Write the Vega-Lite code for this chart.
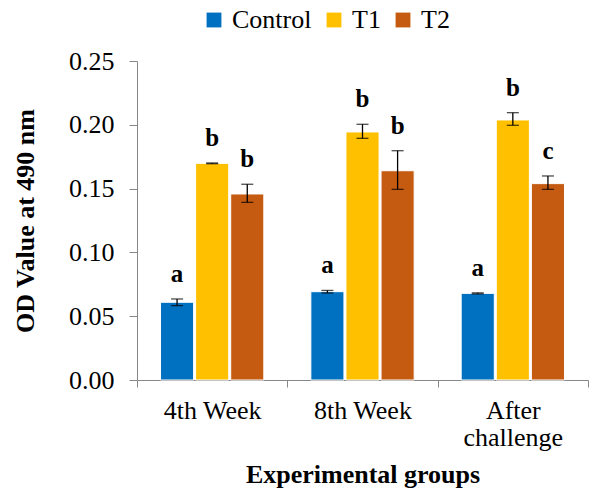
{
  "$schema": "https://vega.github.io/schema/vega-lite/v6.json",
  "autosize": "none",
  "padding": {"left": 137, "top": 61, "right": 4, "bottom": 109},
  "width": 451,
  "height": 319,
  "background": "white",
  "config": {"view": {"stroke": null}, "font": "Liberation Serif"},
  "data": {"values": [
    {"group": "4th Week", "treatment": "Control", "mean": 0.0609, "lo": 0.0583, "hi": 0.0635, "letter": "a"},
    {"group": "4th Week", "treatment": "T1", "mean": 0.1698, "lo": 0.1695, "hi": 0.1701, "letter": "b"},
    {"group": "4th Week", "treatment": "T2", "mean": 0.1458, "lo": 0.1392, "hi": 0.1534, "letter": "b"},
    {"group": "8th Week", "treatment": "Control", "mean": 0.0692, "lo": 0.0682, "hi": 0.0702, "letter": "a"},
    {"group": "8th Week", "treatment": "T1", "mean": 0.1944, "lo": 0.1894, "hi": 0.2004, "letter": "b"},
    {"group": "8th Week", "treatment": "T2", "mean": 0.1640, "lo": 0.1494, "hi": 0.1797, "letter": "b"},
    {"group": "After challenge", "treatment": "Control", "mean": 0.0679, "lo": 0.0675, "hi": 0.0683, "letter": "a"},
    {"group": "After challenge", "treatment": "T1", "mean": 0.2038, "lo": 0.1996, "hi": 0.2095, "letter": "b"},
    {"group": "After challenge", "treatment": "T2", "mean": 0.1539, "lo": 0.1494, "hi": 0.1599, "letter": "c"}
  ]},
  "encoding": {
    "x": {
      "field": "group", "type": "nominal", "sort": null,
      "scale": {"paddingInner": 0, "paddingOuter": 0},
      "axis": {
        "title": "Experimental groups",
        "titleFont": "Liberation Serif", "titleFontSize": 26, "titleFontWeight": "bold", "titleColor": "black",
        "titlePadding": 11,
        "labelFont": "Liberation Serif", "labelFontSize": 26, "labelColor": "black",
        "labelAngle": 0, "labelPadding": 10, "labelLineHeight": 27,
        "labelExpr": "datum.label == 'After challenge' ? ['After', 'challenge'] : datum.label",
        "tickBand": "extent", "tickSize": 7, "tickColor": "#888888",
        "domainColor": "#888888", "grid": false
      }
    },
    "xOffset": {
      "field": "treatment", "type": "nominal",
      "scale": {"paddingInner": 0.057, "paddingOuter": 0.67}
    }
  },
  "layer": [
    {
      "mark": {"type": "bar", "stroke": "white", "strokeWidth": 1},
      "encoding": {
        "y": {
          "field": "mean", "type": "quantitative",
          "scale": {"domain": [0, 0.25], "nice": false},
          "axis": {
            "title": "OD Value at 490 nm",
            "titleFont": "Liberation Serif", "titleFontSize": 26, "titleFontWeight": "bold", "titleColor": "black",
            "titlePadding": 30,
            "labelFont": "Liberation Serif", "labelFontSize": 26, "labelColor": "black",
            "labelPadding": 15, "format": ".2f",
            "values": [0, 0.05, 0.1, 0.15, 0.2, 0.25],
            "tickSize": 8, "tickColor": "#888888", "domainColor": "#888888", "grid": false
          }
        },
        "color": {
          "field": "treatment", "type": "nominal",
          "scale": {"domain": ["Control", "T1", "T2"], "range": ["#0070C0", "#FFC000", "#C55A11"]},
          "legend": {
            "title": null, "orient": "none", "legendX": 64, "legendY": -54,
            "direction": "horizontal", "symbolType": "square", "symbolSize": 220,
            "symbolStrokeWidth": 0,
            "labelFont": "Liberation Serif", "labelFontSize": 26, "labelColor": "black",
            "labelOffset": 5, "columnPadding": 9
          }
        }
      }
    },
    {
      "mark": {"type": "rule", "color": "black", "strokeWidth": 1.3},
      "encoding": {
        "y": {"field": "lo", "type": "quantitative"},
        "y2": {"field": "hi"}
      }
    },
    {
      "mark": {"type": "tick", "color": "black", "thickness": 1.3, "size": 12},
      "encoding": {"y": {"field": "lo", "type": "quantitative"}}
    },
    {
      "mark": {"type": "tick", "color": "black", "thickness": 1.3, "size": 12},
      "encoding": {"y": {"field": "hi", "type": "quantitative"}}
    },
    {
      "mark": {"type": "text", "font": "Liberation Serif", "fontSize": 25, "fontWeight": "bold", "color": "black", "baseline": "bottom", "dy": -12},
      "encoding": {
        "y": {"field": "hi", "type": "quantitative"},
        "text": {"field": "letter"}
      }
    }
  ]
}
